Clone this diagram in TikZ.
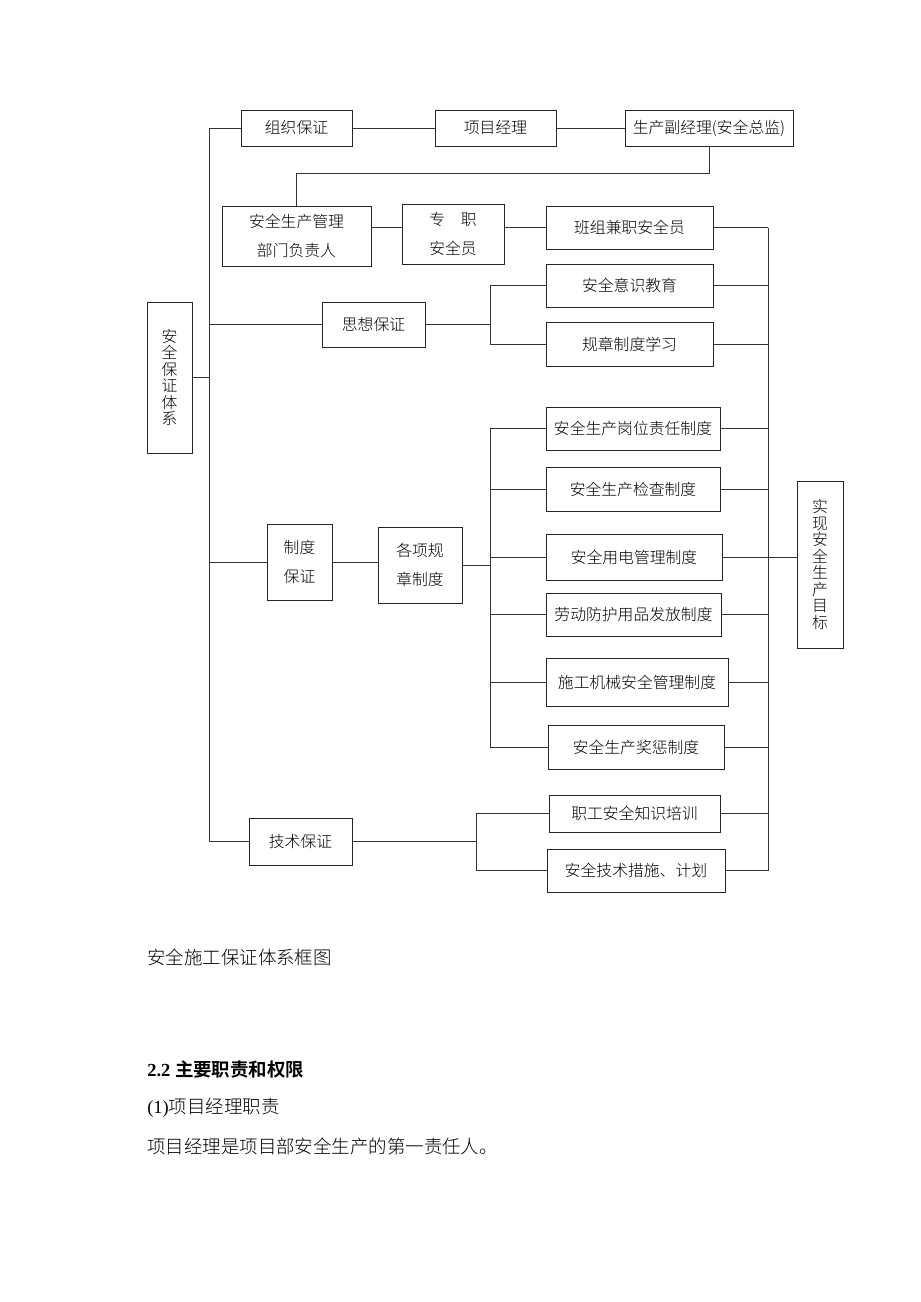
\documentclass[tikz,border=0pt]{standalone}
\usepackage{fontspec}
\setmainfont{Liberation Serif}
\newfontfamily\cjk{Noto Sans CJK SC}[UprightFont={* Light}, BoldFont={* Bold}]

\tikzset{
  blk/.style={draw=black!85, line width=0.5pt, inner sep=0pt, align=center,
    font=\cjk\fontsize{9}{16.5}\selectfont},
  vblk/.style={blk, font=\cjk\fontsize{9}{9.4}\selectfont},
  lnk/.style={draw=black!80, line width=0.5pt},
  txt/.style={anchor=west, inner sep=0pt, font=\fontsize{10.5}{12}\selectfont}
}

\begin{document}
\begin{tikzpicture}[x=0.02cm, y=-0.02cm]
  \useasboundingbox (0,0) rectangle (920,1302);
  \fill[white] (0,0) rectangle (920,1302);

  % trunk positions
  \coordinate (mX) at (209,0);
  \coordinate (rX) at (768,0);
  \coordinate (sxJ) at (490,0);
  \coordinate (zdJ) at (490,0);
  \coordinate (jsJ) at (476,0);
  \coordinate (bend) at (0,173);

  % top row
  \node[blk, minimum width=2.22cm, minimum height=0.72cm] (zzbz) at (296.5,128) {组织保证};
  \node[blk, minimum width=2.42cm, minimum height=0.72cm] (xmjl) at (495.5,128) {项目经理};
  \node[blk, minimum width=3.36cm, minimum height=0.72cm] (fjl) at (709,128) {生产副经理(安全总监)};

  \node[blk, minimum width=2.98cm, minimum height=1.2cm] (aqgl) at (296.5,236) {安全生产管理\\部门负责人};
  \node[blk, minimum width=2.04cm, minimum height=1.2cm] (zzaq) at (453,234) {专\hspace{1em}职\\安全员};
  \node[blk, minimum width=3.34cm, minimum height=0.86cm] (bzjz) at (629.5,227.5) {班组兼职安全员};

  % left system box
  \node[vblk, minimum width=0.9cm, minimum height=3.02cm] (aqbz) at (169.5,377.5) {安\\全\\保\\证\\体\\系};

  % thought
  \node[blk, minimum width=2.06cm, minimum height=0.9cm] (sxbz) at (373.5,324.5) {思想保证};
  \node[blk, minimum width=3.34cm, minimum height=0.86cm] (aqys) at (629.5,285.5) {安全意识教育};
  \node[blk, minimum width=3.34cm, minimum height=0.88cm] (gzxx) at (629.5,344) {规章制度学习};

  % rules
  \node[blk, minimum width=1.3cm, minimum height=1.52cm] (zdbz) at (299.5,562) {制度\\保证};
  \node[blk, minimum width=1.68cm, minimum height=1.52cm] (gxgz) at (420,565) {各项规\\章制度};
  \node[blk, minimum width=3.48cm, minimum height=0.86cm] (gwzd) at (633,428.5) {安全生产岗位责任制度};
  \node[blk, minimum width=3.48cm, minimum height=0.88cm] (jczd) at (633,489) {安全生产检查制度};
  \node[blk, minimum width=3.52cm, minimum height=0.92cm] (ydzd) at (634,557) {安全用电管理制度};
  \node[blk, minimum width=3.5cm, minimum height=0.86cm] (fhzd) at (633.5,614.5) {劳动防护用品发放制度};
  \node[blk, minimum width=3.64cm, minimum height=0.96cm] (jxzd) at (637,682) {施工机械安全管理制度};
  \node[blk, minimum width=3.52cm, minimum height=0.88cm] (jlzd) at (636,747) {安全生产奖惩制度};

  % goal
  \node[vblk, minimum width=0.92cm, minimum height=3.34cm] (mubiao) at (820,564.5) {实\\现\\安\\全\\生\\产\\目\\标};

  % technique
  \node[blk, minimum width=2.06cm, minimum height=0.94cm] (jsbz) at (300.5,841.5) {技术保证};
  \node[blk, minimum width=3.42cm, minimum height=0.74cm] (pxzs) at (634.5,813.5) {职工安全知识培训};
  \node[blk, minimum width=3.56cm, minimum height=0.86cm] (jscs) at (636,870.5) {安全技术措施、计划};

  % main trunk
  \draw[lnk] (zzbz.west -| mX) -- (jsbz.west -| mX);
  \draw[lnk] (aqbz.east) -- (aqbz.east -| mX);
  \foreach \b in {zzbz,sxbz,zdbz,jsbz}
    \draw[lnk] (\b.west -| mX) -- (\b.west);

  % chains
  \draw[lnk] (zzbz) -- (xmjl);
  \draw[lnk] (xmjl) -- (fjl);
  \draw[lnk] (fjl.south) |- (aqgl.north |- bend) -- (aqgl.north);
  \draw[lnk] (aqgl.east |- bzjz.west) -- (zzaq.west |- bzjz.west);
  \draw[lnk] (zzaq.east |- bzjz.west) -- (bzjz.west);
  \draw[lnk] (zdbz.east) -- (zdbz.east -| gxgz.west);

  % branches
  \draw[lnk] (sxbz.east) -- (sxbz.east -| sxJ);
  \draw[lnk] (aqys.west -| sxJ) -- (gzxx.west -| sxJ);
  \foreach \b in {aqys,gzxx}
    \draw[lnk] (\b.west -| sxJ) -- (\b.west);

  \draw[lnk] (gxgz.east) -- (gxgz.east -| zdJ);
  \draw[lnk] (gwzd.west -| zdJ) -- (jlzd.west -| zdJ);
  \foreach \b in {gwzd,jczd,ydzd,fhzd,jxzd,jlzd}
    \draw[lnk] (\b.west -| zdJ) -- (\b.west);

  \draw[lnk] (jsbz.east) -- (jsbz.east -| jsJ);
  \draw[lnk] (pxzs.west -| jsJ) -- (jscs.west -| jsJ);
  \foreach \b in {pxzs,jscs}
    \draw[lnk] (\b.west -| jsJ) -- (\b.west);

  % right trunk
  \draw[lnk] (bzjz.east -| rX) -- (jscs.east -| rX);
  \foreach \b in {bzjz,aqys,gzxx,gwzd,jczd,ydzd,fhzd,jxzd,jlzd,pxzs,jscs}
    \draw[lnk] (\b.east) -- (\b.east -| rX);
  \draw[lnk] (ydzd.east -| rX) -- (mubiao.west |- ydzd.east);

  % text below
  \node[txt] (capt) at (147,957) {\cjk 安全施工保证体系框图};
  \node[txt] (sect) at (147,1070) {\bfseries 2.2 {\cjk\bfseries 主要职责和权限}};
  \node[txt] (subs) at (147,1108) {(1){\cjk 项目经理职责}};
  \node[txt] (para) at (147,1146) {\cjk 项目经理是项目部安全生产的第一责任人。};
\end{tikzpicture}
\end{document}
